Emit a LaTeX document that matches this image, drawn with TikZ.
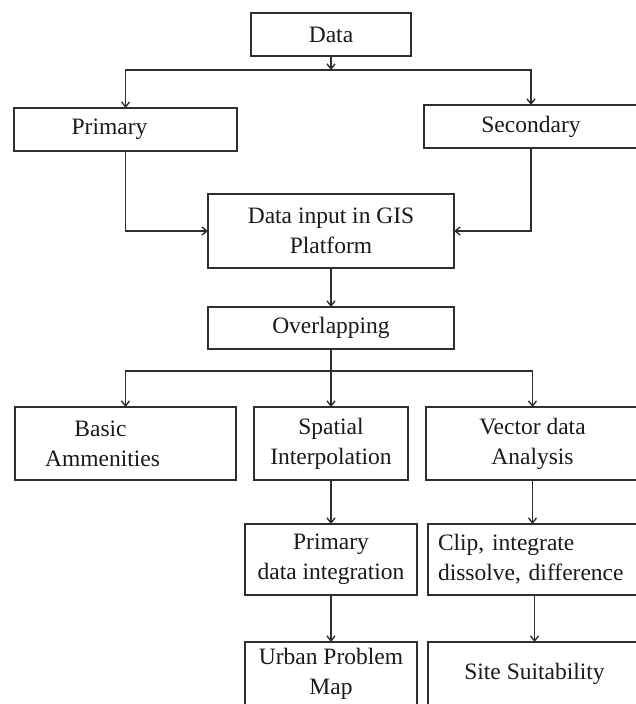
\documentclass[tikz,border=0pt]{standalone}
\usepackage{fontspec}
\setmainfont{Liberation Serif}
\usetikzlibrary{arrows.meta,positioning}
\definecolor{BoxLine}{HTML}{2e2e2e}
\definecolor{BoxText}{HTML}{1a1a1a}

\begin{document}
\begin{tikzpicture}[x=1pt,y=-1pt,
        procbox/.style={draw=BoxLine,line width=1.7pt,fill=white,
                     text=BoxText,inner sep=0pt,outer sep=0pt,align=center,
                     font=\fontsize{23.5}{30}\selectfont},
        link/.style={draw=BoxLine,line width=1.4pt,
                     -{Straight Barb[length=5pt,width=8pt]}},
        plain/.style={draw=BoxLine,line width=1.4pt}]
        \useasboundingbox (0,0) rectangle (636,704);
        \clip (0,0) rectangle (636,704);
        \node[procbox,minimum width=160pt,minimum height=43pt] (data)
              at (331,34.5) {Data};
        \node[procbox,minimum width=223pt,minimum height=43pt] (primary)
              at (125.5,129.5) {Primary\hspace*{32pt}};
        \node[procbox,minimum width=214pt,minimum height=43pt] (secondary)
              at (531,126.5) {Secondary};
        \node[procbox,minimum width=246pt,minimum height=74pt,below=138pt of data] (gis)
              {Data input in GIS\\Platform};
        \node[procbox,minimum width=246pt,minimum height=42pt,below=39pt of gis] (overlap)
              {Overlapping};
        \node[procbox,minimum width=154pt,minimum height=73pt,below=58pt of overlap] (spatial)
              {Spatial\\Interpolation};
        \node[procbox,minimum width=221pt,minimum height=73pt,left=18pt of spatial] (basic)
              {Basic\hspace*{50pt}\\Ammenities\hspace*{46pt}};
        \node[procbox,minimum width=213pt,minimum height=73pt,right=18pt of spatial] (vector)
              {Vector data\\Analysis};
        \node[procbox,minimum width=172pt,minimum height=71pt,below=44pt of spatial] (pdi)
              {Primary\\data integration};
        \node[procbox,minimum width=213pt,minimum height=71pt,right=11pt of pdi,
              text width=193pt,inner xsep=10pt,align=left] (clip)
              {Clip, integrate\\dissolve, difference};
        % bottom row runs past the lower edge
        \node[procbox,minimum width=172pt,minimum height=64pt,below=47pt of pdi] (urban)
              {Urban Problem\\Map};
        \node[procbox,minimum width=213pt,minimum height=64pt,right=11pt of urban] (site)
              {Site Suitability};
        \coordinate[below=14pt of data.south] (split1);
        \coordinate[below=22pt of overlap.south] (split2);
        \draw[link] (data.south) -- (split1);
        \draw[link] (split1) -| (primary.north);
        \draw[link] (split1) -| (secondary.north);
        \draw[link] (primary.south) |- (gis.west);
        \draw[link] (secondary.south) |- (gis.east);
        \draw[link] (gis.south) -- (overlap.north);
        \draw[plain] (overlap.south) -- (split2);
        \foreach \b in {basic,spatial,vector}{
          \draw[link] (split2) -| (\b.north);
        }
        \foreach \a/\b in {spatial/pdi,pdi/urban,vector/clip,clip/site}{
          \draw[link] (\a.south) -- (\a.south |- \b.north);
        }
      \end{tikzpicture}
\end{document}
